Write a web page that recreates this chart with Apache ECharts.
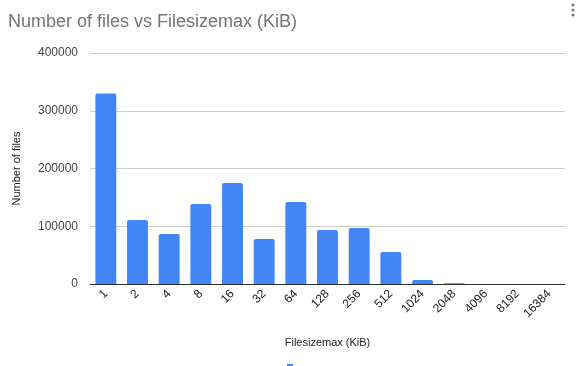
<!DOCTYPE html>
<html><head><meta charset="utf-8">
<script src="https://cdn.jsdelivr.net/npm/echarts@6/dist/echarts.min.js"></script>
<style>html,body{margin:0;padding:0;background:#fff}#c{width:580px;height:366px}</style>
</head><body><div id="c"></div>
<script>
const categories = ['1','2','4','8','16','32','64','128','256','512','1024','2048','4096','8192','16384'];
const fileCounts = [330000,111000,86500,138500,175000,78000,142000,93500,97000,55500,7000,1200,200,50,20];
const yTicks = [0,100000,200000,300000,400000];

const chart = echarts.init(document.getElementById('c'));
chart.setOption({
  animation:false,
  title:{text:'Number of files vs Filesizemax (KiB)',left:3,top:8,textStyle:{fontFamily:'Liberation Sans, Arial',fontSize:18,fontWeight:'normal',color:'#757575'}},
  grid:{left:90,right:15,top:53,bottom:82},
  xAxis:{type:'category',data:categories,
    name:'Filesizemax (KiB)',nameLocation:'middle',nameGap:53,
    nameTextStyle:{fontFamily:'Liberation Sans, Arial',fontSize:11,color:'#222'},
    axisLine:{lineStyle:{color:'#333'}},axisTick:{show:false},
    axisLabel:{rotate:45,interval:0,fontFamily:'Liberation Sans, Arial',fontSize:12,color:'#222',margin:8}},
  yAxis:{type:'value',min:yTicks[0],max:yTicks[yTicks.length-1],interval:100000,
    name:'Number of files',nameLocation:'middle',nameGap:68,nameRotate:90,
    nameTextStyle:{fontFamily:'Liberation Sans, Arial',fontSize:11,color:'#222'},
    axisLine:{show:false},axisTick:{show:false},
    splitLine:{lineStyle:{color:'#cccccc'}},
    axisLabel:{formatter:v=>String(v),fontFamily:'Liberation Sans, Arial',fontSize:12,color:'#444',margin:12}},
  series:[{type:'bar',data:fileCounts,barCategoryGap:'34%',itemStyle:{color:'#4285F4',borderRadius:[2,2,0,0]}}],
  graphic:[
    {type:'rect',shape:{x:287,y:364,width:6,height:2},style:{fill:'#4285F4'}},
    {type:'circle',shape:{cx:573,cy:5,r:1.5},style:{fill:'#777'}},
    {type:'circle',shape:{cx:573,cy:10,r:1.5},style:{fill:'#777'}},
    {type:'circle',shape:{cx:573,cy:15,r:1.5},style:{fill:'#777'}}
  ]
});
</script></body></html>
